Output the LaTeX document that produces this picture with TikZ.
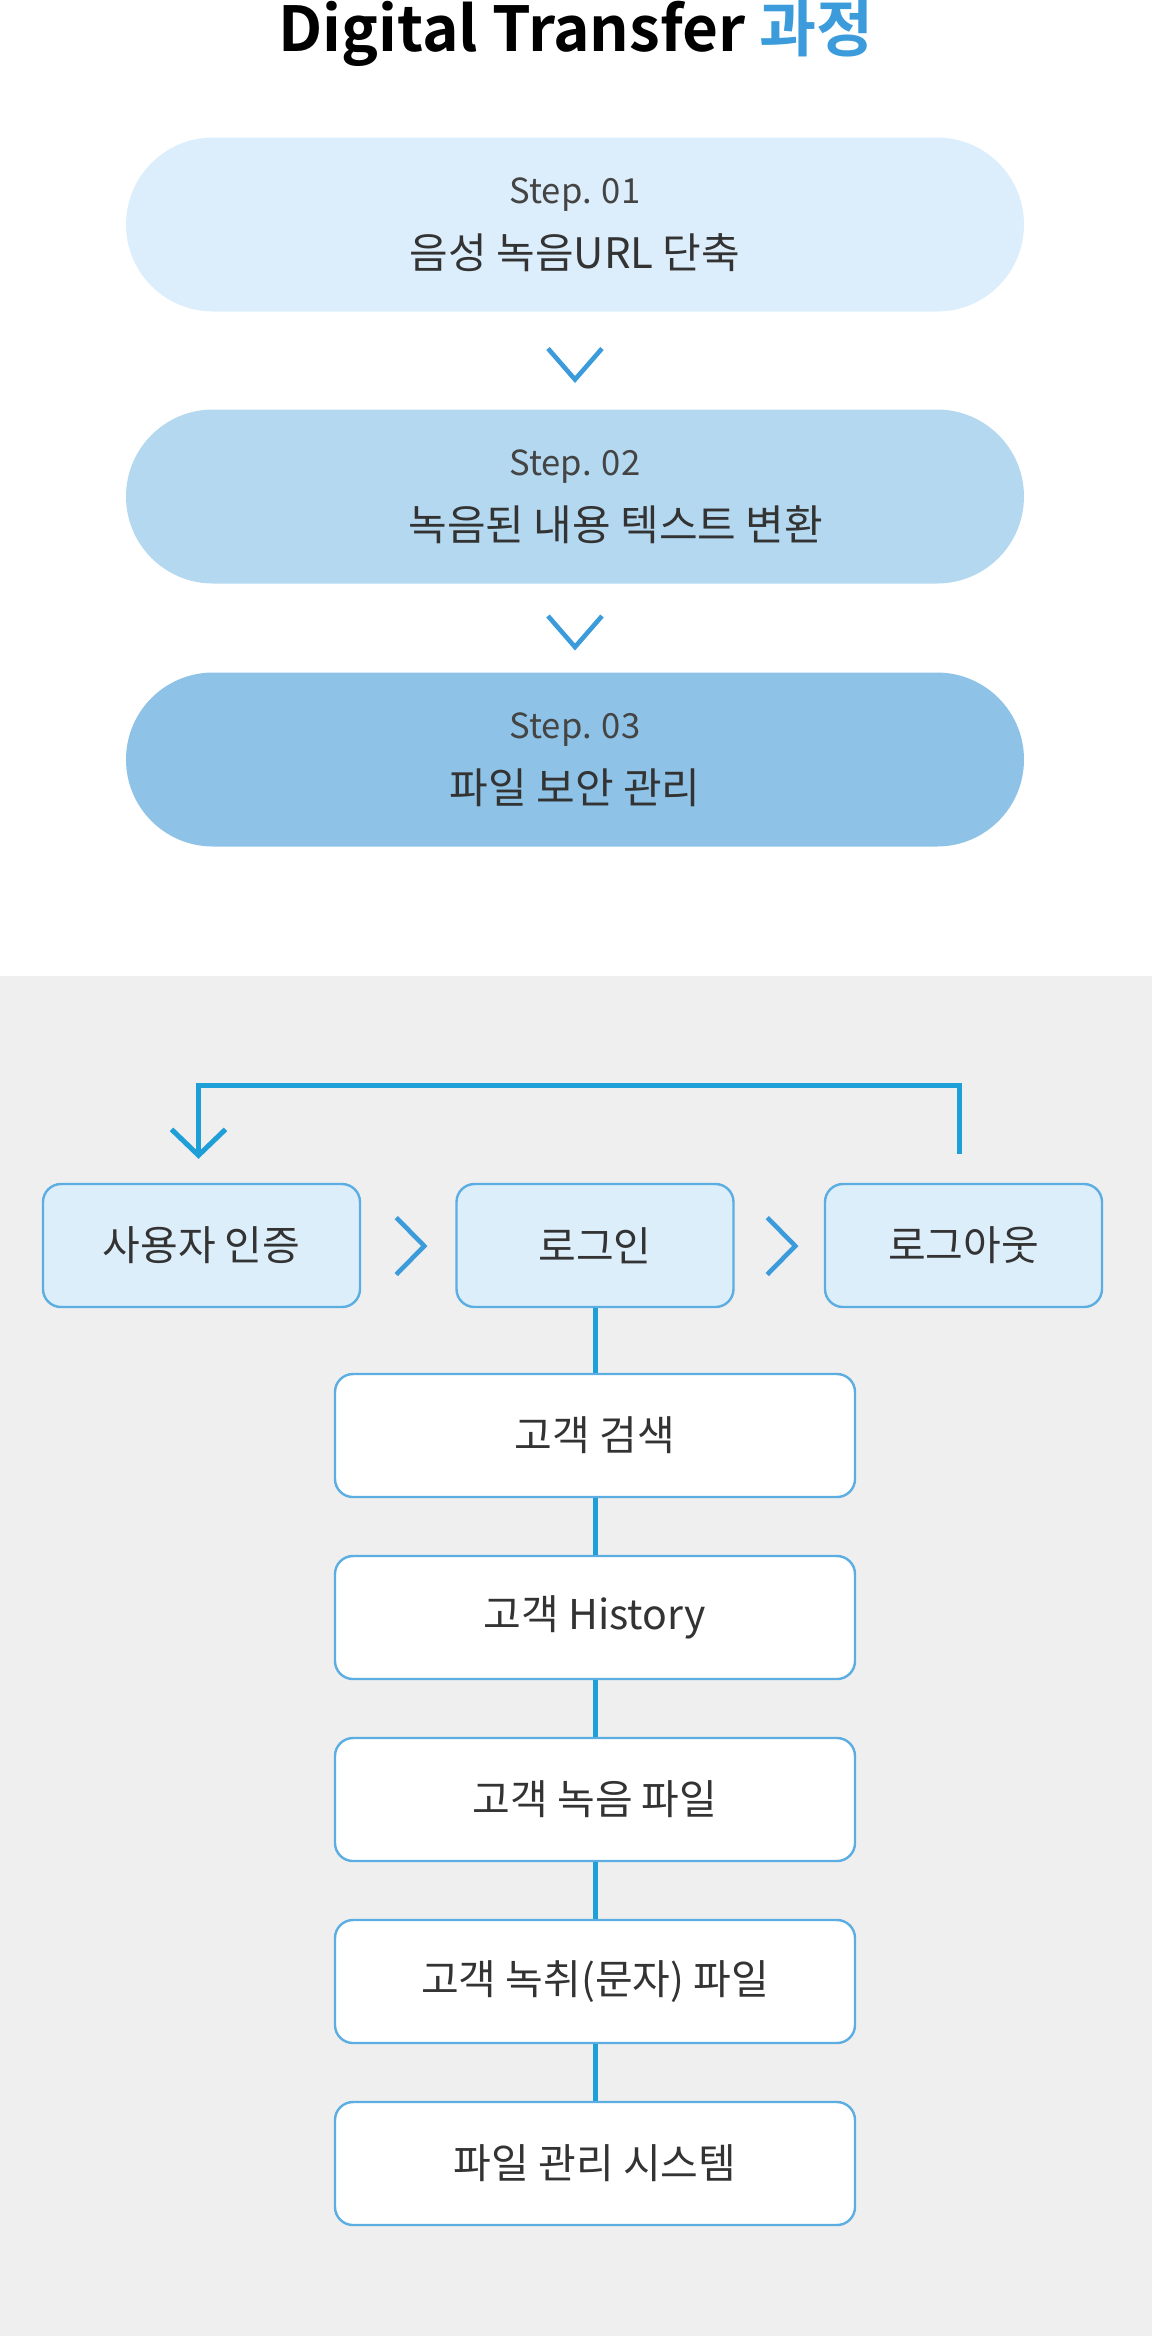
\documentclass[tikz,border=0pt]{standalone}
\usepackage{fontspec}
\setmainfont{Noto Sans CJK KR}[BoldFont={Noto Sans CJK KR Bold}]
\usetikzlibrary{arrows.meta,calc}

\definecolor{titleblue}{HTML}{3B9BDB}
\definecolor{linkblue}{HTML}{1F9FD7}
\definecolor{boxline}{HTML}{5CAEE2}
\definecolor{boxfill}{HTML}{DDEEFB}
\definecolor{stepa}{HTML}{DCEEFB}
\definecolor{stepb}{HTML}{B3D8EF}
\definecolor{stepc}{HTML}{8EC3E7}
\definecolor{bggray}{HTML}{EFEFEF}
\definecolor{txt}{HTML}{333333}
\definecolor{steptxt}{HTML}{444444}

\newcommand{\steptag}[1]{{\fontsize{17.3}{32.5}\selectfont\color{steptxt}Step. #1}}

\begin{document}
\begin{tikzpicture}[x=0.5pt,y=-0.5pt,>={Straight Barb[length=13pt,width=27pt]},
  stepbox/.style={rounded corners=43.5pt,minimum width=449pt,minimum height=87pt,inner sep=0pt,align=center,text=txt,font=\fontsize{21}{32.5}\selectfont},
  flowbox/.style={draw=boxline,line width=1.2pt,fill=boxfill,rounded corners=9pt,minimum height=61.5pt,inner sep=0pt,text=txt,font=\fontsize{20.5}{24}\selectfont},
  listbox/.style={flowbox,fill=white,minimum width=260pt},
  link/.style={draw=linkblue,line width=2.5pt},
  chev/.style={draw=titleblue,line width=2.3pt}]
%%
  \useasboundingbox (0,0) rectangle (1152,2336);
  \fill[bggray] (0,976) rectangle (1152,2336);
  \node (title) at (576,33) [text=black,font=\bfseries\fontsize{31}{36}\selectfont] {Digital Transfer \textcolor{titleblue}{과정}};
%% steps
  \node (s1) at (575,224.5) [stepbox,fill=stepa] {\steptag{01}\\ 음성 녹음URL 단축};
  \node (s2) at (575,496.5) [stepbox,fill=stepb] {\steptag{02}\\ \hspace*{41pt}녹음된 내용 텍스트 변환};
  \node (s3) at (575,759.5) [stepbox,fill=stepc] {\steptag{03}\\ 파일 보안 관리};
  \foreach \a/\b in {s1/s2,s2/s3}
    \draw[chev] ($(\a.south)!.5!(\b.north)+(-27,-12)$) -- ++(27,31) -- ++(27,-31);
%% login flow
  \node (auth) at (201.5,1245.5) [flowbox,minimum width=158.5pt] {사용자 인증};
  \node (login) at (595,1245.5) [flowbox,minimum width=138.5pt] {로그인};
  \node (logout) at (963.5,1245.5) [flowbox,minimum width=138.5pt] {로그아웃};
  \foreach \a/\b in {auth/login,login/logout}
    \draw[chev] ($(\a.east)!.5!(\b.west)+(-12,-28)$) -- ++(28,28.5) -- ++(-28,28.5);
  \draw[link,->] ([xshift=-2pt,yshift=14.5pt]logout.north) -- ([xshift=-2pt,yshift=48.5pt]logout.north) -| ([xshift=-1.5pt,yshift=12pt]auth.north);
%% menu list
  \node (q1) at (595,1435.5) [listbox] {고객 검색};
  \node (q2) at (595,1617.5) [listbox] {고객 History};
  \node (q3) at (595,1799.5) [listbox] {고객 녹음 파일};
  \node (q4) at (595,1981.5) [listbox] {고객 녹취(문자) 파일};
  \node (q5) at (595,2163.5) [listbox] {파일 관리 시스템};
  \foreach \a/\b in {login/q1,q1/q2,q2/q3,q3/q4,q4/q5}
    \draw[link] (\a) -- (\b);
%
\end{tikzpicture}
\end{document}
